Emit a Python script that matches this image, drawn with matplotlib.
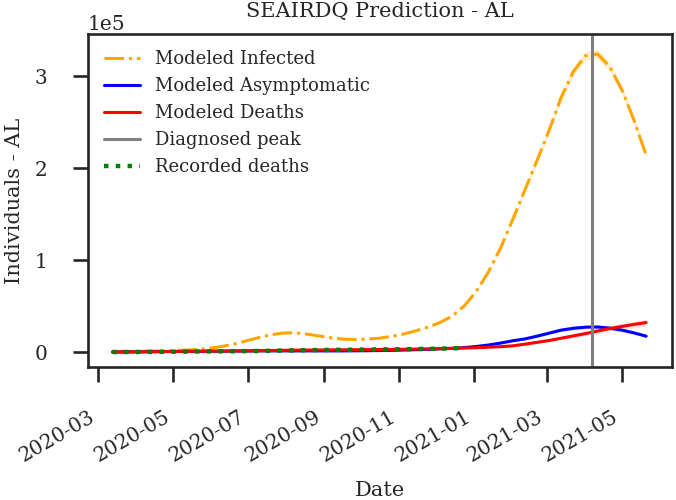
import matplotlib
matplotlib.use("Agg")
import matplotlib.pyplot as plt
import matplotlib.dates as mdates
import seaborn as sns
import numpy as np
import pandas as pd

# ---------------- data (values in units of 1e5 individuals) ----------------
model_start = "2020-03-13"
model_end = "2021-05-21"
n_points = 45

infected = [0.000, 0.003, 0.006, 0.010, 0.012, 0.016, 0.020, 0.028, 0.040, 0.060,
            0.085, 0.120, 0.155, 0.185, 0.205, 0.210, 0.195, 0.175, 0.155, 0.140,
            0.135, 0.140, 0.150, 0.170, 0.195, 0.230, 0.270, 0.320, 0.390, 0.500,
            0.660, 0.870, 1.130, 1.440, 1.760, 2.080, 2.410, 2.770, 3.050, 3.220,
            3.240, 3.100, 2.850, 2.520, 2.140]

asymptomatic = [0.000, 0.001, 0.002, 0.003, 0.004, 0.005, 0.006, 0.007, 0.008, 0.009,
                0.010, 0.011, 0.012, 0.012, 0.012, 0.012, 0.012, 0.012, 0.012, 0.012,
                0.013, 0.014, 0.016, 0.018, 0.021, 0.025, 0.029, 0.034, 0.040, 0.048,
                0.060, 0.076, 0.097, 0.122, 0.142, 0.172, 0.205, 0.238, 0.258, 0.270,
                0.272, 0.260, 0.238, 0.208, 0.172]

deaths = [0.000, 0.001, 0.002, 0.003, 0.005, 0.006, 0.007, 0.008, 0.009, 0.010,
          0.011, 0.012, 0.014, 0.016, 0.018, 0.020, 0.021, 0.022, 0.023, 0.024,
          0.025, 0.026, 0.027, 0.028, 0.030, 0.032, 0.034, 0.037, 0.040, 0.043,
          0.047, 0.052, 0.058, 0.067, 0.085, 0.105, 0.125, 0.150, 0.175, 0.200,
          0.228, 0.255, 0.278, 0.300, 0.320]

# recorded deaths on the first 30 model dates
recorded_deaths = [0.000, 0.000, 0.0001, 0.0007, 0.0015, 0.0027, 0.0040, 0.0055, 0.0065, 0.0075,
                   0.0085, 0.0095, 0.0110, 0.0130, 0.0160, 0.0175, 0.0195, 0.0210, 0.0225, 0.0240,
                   0.0250, 0.0265, 0.0280, 0.0290, 0.0305, 0.0320, 0.0340, 0.0365, 0.0400, 0.0430]

diagnosed_peak = "2021-04-07"

# relative width of the uncertainty bands
band_infected = 0.015
band_asym = 0.08
band_deaths = 0.12

scale = 1e5
# ---------------------------------------------------------------------------

sns.set_theme(style="ticks", font="serif")
plt.rcParams["font.family"] = ["DejaVu Serif"]
plt.rcParams["axes.linewidth"] = 1.9
plt.rcParams["xtick.major.width"] = 1.9
plt.rcParams["ytick.major.width"] = 1.9
plt.rcParams["xtick.major.size"] = 11
plt.rcParams["ytick.major.size"] = 11

dates = pd.date_range(model_start, model_end, periods=n_points)
inf = np.array(infected) * scale
asy = np.array(asymptomatic) * scale
dea = np.array(deaths) * scale
rec = np.array(recorded_deaths) * scale

fig = plt.figure(figsize=(6.76, 5.0), dpi=100)
ax = fig.add_axes([0.130, 0.266, 0.864, 0.666])

ax.fill_between(dates, inf * (1 - band_infected), inf * (1 + band_infected),
                color="orange", alpha=0.2, lw=0)
ax.fill_between(dates, asy * (1 - band_asym), asy * (1 + band_asym),
                color="blue", alpha=0.12, lw=0)
ax.fill_between(dates, dea * (1 - band_deaths), dea * (1 + band_deaths),
                color="red", alpha=0.12, lw=0)

ax.plot(dates, inf, "-.", color="orange", lw=2.2, label="Modeled Infected")
ax.plot(dates, asy, "-", color="blue", lw=2.2, label="Modeled Asymptomatic")
ax.plot(dates, dea, "-", color="red", lw=2.2, label="Modeled Deaths")
ax.axvline(pd.Timestamp(diagnosed_peak), color="grey", lw=2.2, label="Diagnosed peak")
ax.plot(dates[:len(rec)], rec, ":", color="green", lw=3.2, label="Recorded deaths")

ax.set_xlim(pd.Timestamp("2020-02-22"), pd.Timestamp("2021-06-11"))
ax.set_ylim(-0.163 * scale, 3.457 * scale)

ax.xaxis.set_major_locator(mdates.MonthLocator(bymonth=[1, 3, 5, 7, 9, 11]))
ax.xaxis.set_major_formatter(mdates.DateFormatter("%Y-%m"))
ax.set_yticks([0, 1e5, 2e5, 3e5])
ax.ticklabel_format(axis="y", style="sci", scilimits=(0, 0))
ax.yaxis.get_offset_text().set_fontsize(14.5)

for lab in ax.get_xticklabels():
    lab.set_rotation(30)
    lab.set_ha("right")
ax.tick_params(axis="both", labelsize=14.5, colors=".15", pad=18)

ax.set_title("SEAIRDQ Prediction - AL", fontsize=15, color=".15", pad=12)
ax.set_xlabel("Date", fontsize=15, color=".15", labelpad=11)
ax.set_ylabel("Individuals - AL", fontsize=15, color=".15", labelpad=8)

leg = ax.legend(loc="upper left", fontsize=13, frameon=False)
for t in leg.get_texts():
    t.set_color(".15")

fig.savefig("out.png", dpi=100)
